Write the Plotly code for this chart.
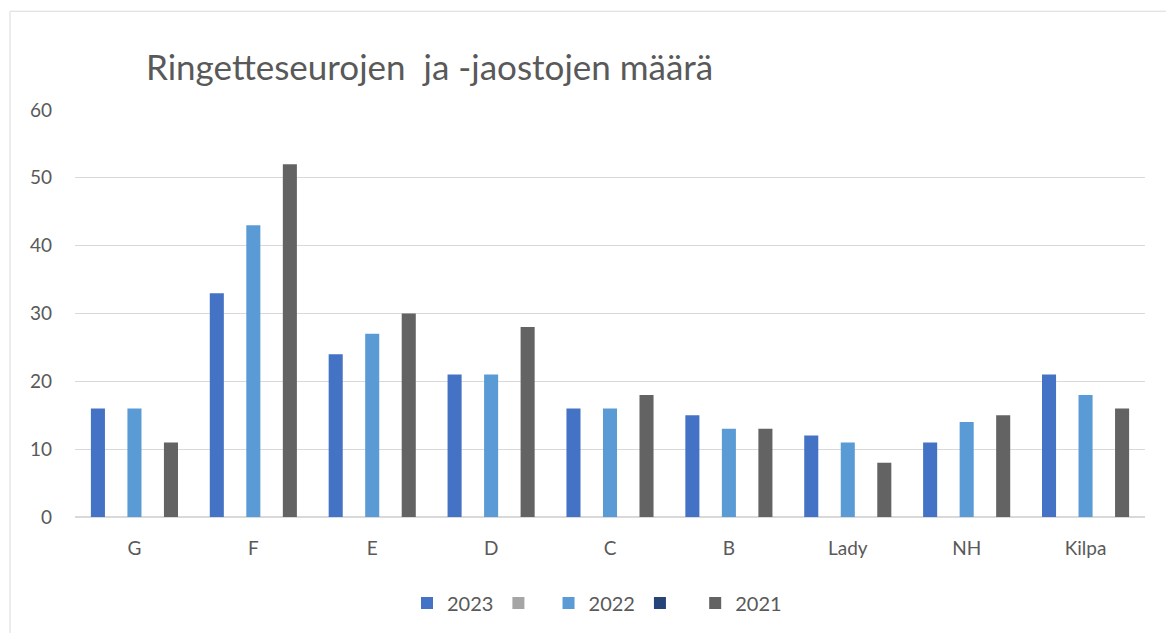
import plotly.graph_objects as go

categories = ["G", "F", "E", "D", "C", "B", "Lady", "NH", "Kilpa"]
v2023 = [16, 33, 24, 21, 16, 15, 12, 11, 21]
v_blank1 = [None] * 9
v2022 = [16, 43, 27, 21, 16, 13, 11, 14, 18]
v_blank2 = [None] * 9
v2021 = [11, 52, 30, 28, 18, 13, 8, 15, 16]
y_ticks = [0, 10, 20, 30, 40, 50, 60]

series = [
    ("2023", v2023, "#4472C4"),
    (" ", v_blank1, "#A5A5A5"),
    ("2022", v2022, "#5B9BD5"),
    ("  ", v_blank2, "#264478"),
    ("2021", v2021, "#636363"),
]

FONT = "Lato, 'Open Sans', sans-serif"
TXT = "#595959"

fig = go.Figure()
for name, vals, col in series:
    fig.add_trace(go.Bar(x=categories, y=vals, name=name, marker=dict(color=col, line=dict(width=0))))

OFF = 8  # page body margin
W, H = 1174 - OFF, 633 - OFF
L = 75 - OFF
T = 110 - OFF
R = W - (1145 - OFF)
B = H - (518 - OFF)
pw, ph = W - L - R, H - T - B

def px(x):
    return (x - OFF - L) / pw

def py(y):
    return (H - B - (y - OFF)) / ph

fig.update_layout(
    width=W, height=H,
    margin=dict(l=L, r=R, t=T, b=B),
    paper_bgcolor="white", plot_bgcolor="white",
    barmode="group", bargap=0.232, bargroupgap=0.23,
    font=dict(family=FONT, color=TXT, size=19),
    title=dict(text="Ringetteseurojen  ja -jaostojen määrä", x=(146 - OFF) / W, xanchor="left",
               y=1 - (68 - OFF) / H, yanchor="middle", font=dict(size=35, color=TXT, family=FONT)),
    xaxis=dict(showgrid=False, showline=False, ticks="", tickfont=dict(size=19, color=TXT), ticklabelstandoff=18),
    yaxis=dict(range=[0, 60], tickvals=y_ticks, showgrid=True, gridcolor="#D9D9D9", gridwidth=1,
               zeroline=True, zerolinecolor="#D9D9D9", zerolinewidth=1.5,
               showline=False, ticks="", tickfont=dict(size=19, color=TXT), ticklabelstandoff=22),
    legend=dict(orientation="h", x=px(597), xanchor="center", y=py(603), yanchor="middle",
                font=dict(size=20, color=TXT), traceorder="normal", itemwidth=30),
    shapes=[dict(type="rect", xref="paper", yref="paper", x0=px(10), x1=px(1173), y0=py(700), y1=py(11),
                 line=dict(color="#D9D9D9", width=1), fillcolor="rgba(0,0,0,0)", layer="below")],
)

fig.write_html("out.html")
